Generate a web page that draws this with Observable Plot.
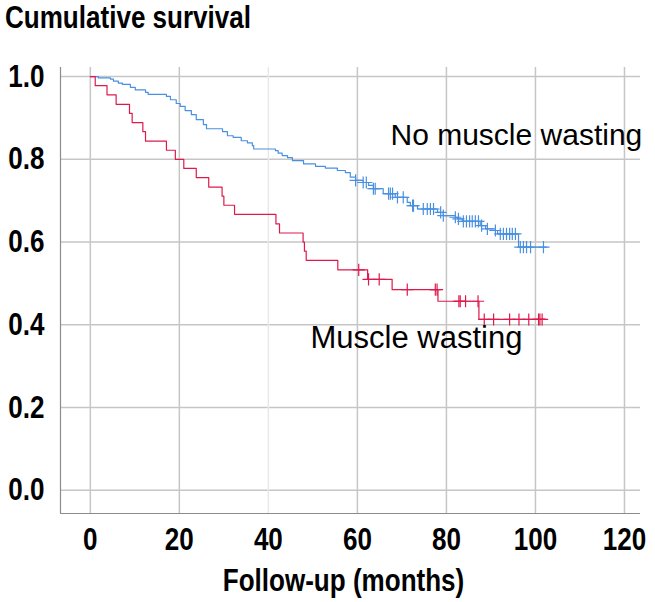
<!DOCTYPE html>
<html>
<head>
<meta charset="utf-8">
<script src="https://cdn.jsdelivr.net/npm/d3@7"></script>
<script src="https://cdn.jsdelivr.net/npm/@observablehq/plot@0.6"></script>
<style>
  html, body { margin: 0; padding: 0; background: #fff; }
  #titlebox { height: 40px; padding-left: 5px; box-sizing: border-box; overflow: visible; }
  #title { display: inline-block; font-family: "Liberation Sans", Arial, sans-serif; font-weight: bold; font-size: 31px;
           line-height: 36px; color: #000; white-space: nowrap; transform: scaleX(0.84); transform-origin: left center; }
  svg { display: block; }
</style>
</head>
<body>
<div id="titlebox"><span id="title">Cumulative survival</span></div>
<div id="chart"></div>
<script>
// Muscle wasting group (red): step times (months) and survival after each step
const redTime = [0, 1.1, 3.75, 5.8, 8.8, 9.4, 11.8, 12.4, 17.1, 19.1, 21.0, 23.8, 26.6, 29.6, 30.0, 32.4, 41.7, 42.5, 47.8, 48.1, 48.5, 55.6, 62.3, 67.8, 78.1, 87.3, 102.2];
const redSurv = [1.0, 0.978, 0.956, 0.933, 0.911, 0.889, 0.867, 0.844, 0.822, 0.800, 0.778, 0.756, 0.733, 0.711, 0.689, 0.667, 0.644, 0.622, 0.600, 0.578, 0.556, 0.533, 0.510, 0.485, 0.457, 0.413, 0.413];
const redCensor = [60.3, 62.5, 64.9, 71.2, 77.5, 77.9, 82.8, 83.1, 84.3, 87.1, 88.5, 90.6, 94.2, 96.3, 98.5, 100.7, 101.0, 101.5];

// No muscle wasting group (blue)
const blueTime = [0, 1.8, 4.5, 5.2, 6.3, 7.2, 9.0, 10.1, 12.4, 13.0, 17.1, 18.0, 19.3, 20.2, 21.3, 22.7, 23.8, 25.4, 26.1, 29.7, 30.8, 32.1, 33.9, 35.3, 36.4, 36.7, 41.6, 42.2, 43.1, 44.3, 45.4, 47.9, 50.6, 52.8, 55.5, 57.3, 58.4, 59.6, 61.3, 62.5, 63.6, 65.8, 68.5, 71.2, 71.9, 73.5, 78.0, 79.3, 82.0, 82.5, 83.6, 87.6, 88.8, 91.0, 91.5, 96.2, 102.5];
const blueSurv = [1.0, 0.997, 0.994, 0.989, 0.984, 0.981, 0.974, 0.968, 0.962, 0.957, 0.952, 0.944, 0.935, 0.928, 0.918, 0.908, 0.896, 0.884, 0.874, 0.867, 0.857, 0.853, 0.845, 0.840, 0.833, 0.825, 0.821, 0.815, 0.809, 0.804, 0.797, 0.789, 0.783, 0.779, 0.773, 0.768, 0.757, 0.749, 0.744, 0.737, 0.729, 0.717, 0.708, 0.696, 0.688, 0.680, 0.672, 0.664, 0.660, 0.656, 0.650, 0.640, 0.632, 0.628, 0.620, 0.588, 0.588];
const blueCensor = [59.6, 61.3, 62.0, 63.6, 64.0, 67.0, 67.4, 67.9, 69.0, 70.3, 72.4, 72.6, 74.8, 75.7, 76.4, 77.1, 78.7, 79.3, 82.0, 82.7, 83.8, 84.5, 85.2, 85.8, 86.5, 87.2, 87.9, 89.2, 91.0, 92.1, 92.8, 93.5, 94.2, 94.8, 95.5, 96.6, 97.3, 98.0, 98.9, 101.8];

const xTicks = [0, 20, 40, 60, 80, 100, 120];
const yTicks = [0.0, 0.2, 0.4, 0.6, 0.8, 1.0];
const groupLabels = ["No muscle wasting", "Muscle wasting"];
const xLabel = "Follow-up (months)";

const xDomain = [-6.7, 123.6];
const yDomain = [-0.056, 1.022];

const blueColor = "#4a90e2";
const redColor = "#de1a4c";

function steps(times, surv) { return times.map((t, i) => ({t, s: surv[i]})); }
function censorPts(censor, times, surv) {
  return censor.map(c => {
    let v = surv[0];
    for (let i = 0; i < times.length; i++) if (times[i] <= c) v = surv[i];
    return {t: c, s: v};
  });
}

const blue = steps(blueTime, blueSurv);
const red = steps(redTime, redSurv);
const blueC = censorPts(blueCensor, blueTime, blueSurv);
const redC = censorPts(redCensor, redTime, redSurv);

const font = "Liberation Sans, Arial, sans-serif";

const chart = Plot.plot({
  width: 655,
  height: 562,
  marginLeft: 60,
  marginRight: 15,
  marginTop: 27,
  marginBottom: 89,
  style: {fontFamily: font, background: "#fff"},
  x: {domain: xDomain},
  y: {domain: yDomain},
  marks: [
    Plot.ruleY(yTicks, {stroke: "#c6c6c6", strokeWidth: 1.5}),
    Plot.ruleX(xTicks.filter(d => d !== 40), {stroke: "#c6c6c6", strokeWidth: 1.5}),
    Plot.ruleX(xTicks.filter(d => d === 40), {stroke: "#e8e8e8", strokeWidth: 1.5}),
    Plot.ruleX([xDomain[0]], {stroke: "#8c8c8c", strokeWidth: 1.2}),
    Plot.ruleY([yDomain[0]], {stroke: "#8c8c8c", strokeWidth: 1.2}),
    Plot.axisX({ticks: xTicks, tickSize: 0, tickPadding: 14, fontSize: 31, fontWeight: "bold", label: null, fill: "#000"}),
    Plot.axisY({ticks: yTicks, tickSize: 0, tickPadding: 16, fontSize: 31, fontWeight: "bold", label: null, tickFormat: d3.format(".1f"), fill: "#000"}),
    Plot.text([xLabel], {frameAnchor: "bottom", dx: -7, dy: 77, fontSize: 31, fontWeight: "bold", fill: "#000", className: "narrow"}),
    Plot.line(blue, {x: "t", y: "s", curve: "step-after", stroke: blueColor, strokeWidth: 1.2}),
    Plot.line(red, {x: "t", y: "s", curve: "step-after", stroke: redColor, strokeWidth: 1.2}),
    Plot.dot(blueC, {x: "t", y: "s", symbol: "plus", r: 4, stroke: blueColor, strokeWidth: 1.2}),
    Plot.dot(redC, {x: "t", y: "s", symbol: "plus", r: 4, stroke: redColor, strokeWidth: 1.2}),
    Plot.text([groupLabels[0]], {frameAnchor: "top-left", textAnchor: "start", lineAnchor: "middle", dx: 330, dy: 68, fontSize: 30, fill: "#000"}),
    Plot.text([groupLabels[1]], {frameAnchor: "top-left", textAnchor: "start", lineAnchor: "middle", dx: 250, dy: 271, fontSize: 31, fill: "#000"})
  ]
});
document.getElementById("chart").appendChild(chart);

// Condense the bold axis texts horizontally (the reference uses a narrow bold face)
const condense = 0.84;
chart.querySelectorAll('g[aria-label="x-axis tick label"] text, g[aria-label="y-axis tick label"] text, g.narrow text').forEach(t => {
  const w = t.getComputedTextLength();
  t.setAttribute("textLength", (w * condense).toFixed(2));
  t.setAttribute("lengthAdjust", "spacingAndGlyphs");
});
</script>
</body>
</html>
